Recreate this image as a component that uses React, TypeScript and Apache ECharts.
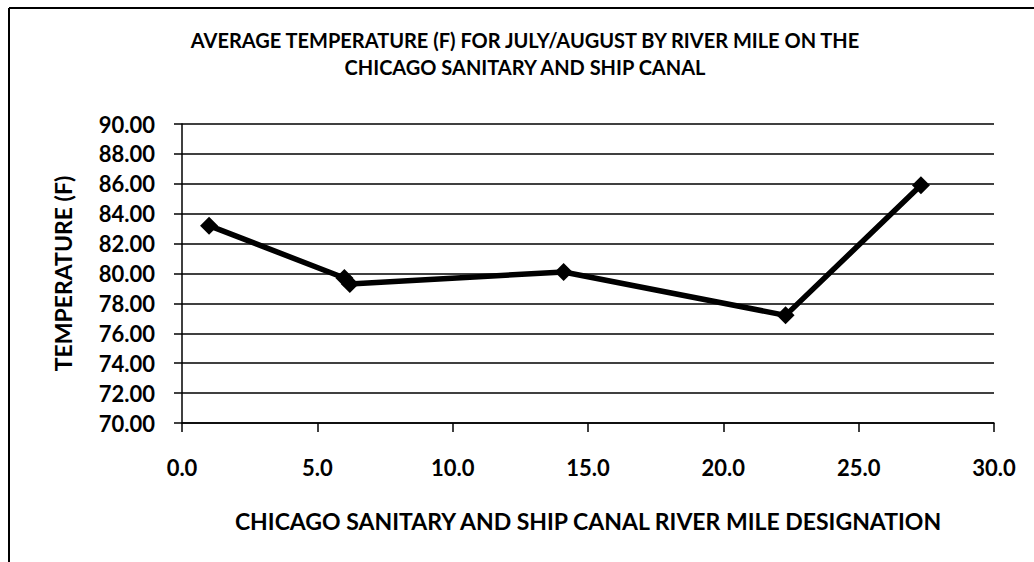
import React, { useEffect, useRef } from "react";
import * as echarts from "echarts";

const riverMile = [1.0, 6.0, 6.2, 14.1, 22.3, 27.3];
const temperature = [83.2, 79.7, 79.3, 80.1, 77.2, 85.9];
const titleLines = [
  "AVERAGE TEMPERATURE (F) FOR JULY/AUGUST BY RIVER MILE ON THE",
  "CHICAGO SANITARY AND SHIP CANAL",
];
const xAxisTitle = "CHICAGO SANITARY AND SHIP CANAL RIVER MILE DESIGNATION";
const yAxisTitle = "TEMPERATURE (F)";

const FONT = "Lato, 'Open Sans', sans-serif";

export default function App() {
  const ref = useRef<HTMLDivElement>(null);
  useEffect(() => {
    document.body.style.margin = "0";
    const chart = echarts.init(ref.current!, undefined, { renderer: "svg" });
    chart.setOption({
      animation: false,
      backgroundColor: "#ffffff",
      title: {
        text: titleLines.join("\n"),
        left: 520,
        textAlign: "center",
        top: 21,
        textStyle: {
          fontFamily: FONT,
          fontWeight: "bold",
          fontSize: 20,
          lineHeight: 27,
          color: "#000",
        },
      },
      graphic: [
        { type: "line", shape: { x1: 9, y1: 8, x2: 1034, y2: 8 }, style: { stroke: "#000", lineWidth: 2 } },
        { type: "line", shape: { x1: 9, y1: 8, x2: 9, y2: 562 }, style: { stroke: "#000", lineWidth: 2 } },
      ],
      grid: { left: 182, right: 40, top: 124, bottom: 139 },
      xAxis: {
        type: "value",
        min: 0,
        max: 30,
        interval: 5,
        name: xAxisTitle,
        nameLocation: "middle",
        nameGap: 86,
        nameTextStyle: { fontFamily: FONT, fontWeight: "bold", fontSize: 23, color: "#000" },
        axisLine: { lineStyle: { color: "#000", width: 1.5 } },
        axisTick: { show: true, length: 9, lineStyle: { color: "#000", width: 1.5 } },
        axisLabel: {
          formatter: (v: number) => v.toFixed(1),
          fontFamily: FONT,
          fontWeight: "bold",
          fontSize: 22,
          color: "#000",
          margin: 33,
        },
        splitLine: { show: false },
      },
      yAxis: {
        type: "value",
        min: 70,
        max: 90,
        interval: 2,
        name: yAxisTitle,
        nameLocation: "middle",
        nameRotate: 90,
        nameGap: 108,
        nameTextStyle: { fontFamily: FONT, fontWeight: "bold", fontSize: 23, color: "#000" },
        axisLine: { show: true, lineStyle: { color: "#000", width: 1.5 } },
        axisTick: { show: true, length: 8, lineStyle: { color: "#000", width: 1.5 } },
        axisLabel: {
          formatter: (v: number) => v.toFixed(2),
          fontFamily: FONT,
          fontWeight: "bold",
          fontSize: 22,
          color: "#000",
          margin: 27,
        },
        splitLine: { show: true, lineStyle: { color: "#000", width: 1.5 } },
      },
      series: [
        {
          type: "line",
          data: riverMile.map((x, i) => [x, temperature[i]]),
          symbol: "diamond",
          symbolSize: 18,
          itemStyle: { color: "#000" },
          lineStyle: { color: "#000", width: 5.5 },
        },
      ],
    });
    return () => chart.dispose();
  }, []);
  return <div ref={ref} style={{ width: 1034, height: 562 }} />;
}
